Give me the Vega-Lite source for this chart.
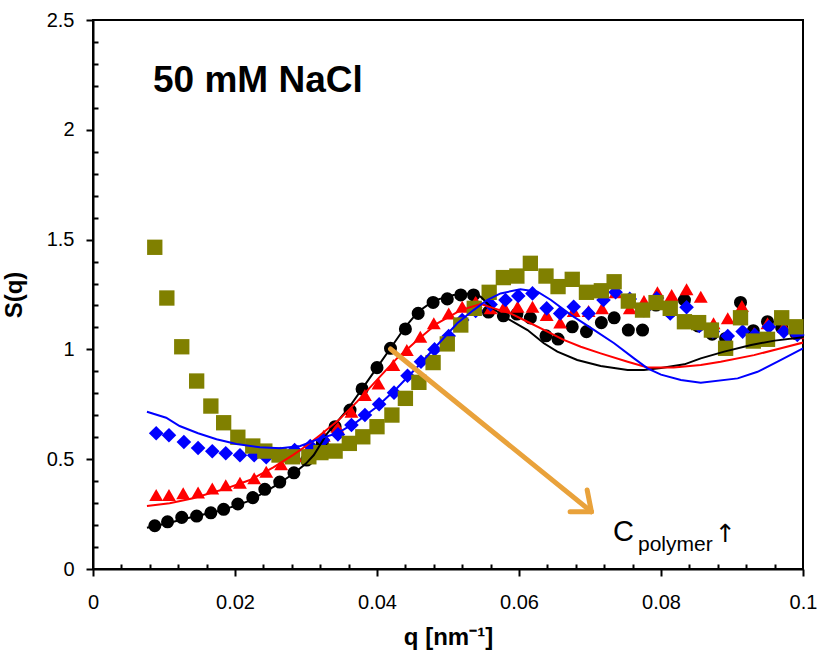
{
  "$schema": "https://vega.github.io/schema/vega-lite/v6.json",
  "width": 710,
  "height": 549,
  "autosize": {"type": "none"},
  "padding": {"left": 93, "top": 20, "right": 14, "bottom": 95},
  "background": "white",
  "config": {"view": {"stroke": "black", "strokeWidth": 2}, "font": "Liberation Sans"},
  "datasets": {
    "pts": [
      {"q":0.0087,"S":0.197,"s":"black"},{"q":0.0105,"S":0.215,"s":"black"},{"q":0.0125,"S":0.235,"s":"black"},{"q":0.0146,"S":0.241,"s":"black"},{"q":0.0166,"S":0.256,"s":"black"},{"q":0.0184,"S":0.272,"s":"black"},{"q":0.0204,"S":0.296,"s":"black"},{"q":0.0225,"S":0.325,"s":"black"},{"q":0.0242,"S":0.363,"s":"black"},{"q":0.0263,"S":0.396,"s":"black"},{"q":0.0283,"S":0.438,"s":"black"},{"q":0.0301,"S":0.496,"s":"black"},{"q":0.0323,"S":0.572,"s":"black"},{"q":0.0341,"S":0.648,"s":"black"},{"q":0.0362,"S":0.724,"s":"black"},{"q":0.0379,"S":0.82,"s":"black"},{"q":0.04,"S":0.917,"s":"black"},{"q":0.0419,"S":1.005,"s":"black"},{"q":0.044,"S":1.093,"s":"black"},{"q":0.0458,"S":1.164,"s":"black"},{"q":0.0479,"S":1.214,"s":"black"},{"q":0.0499,"S":1.23,"s":"black"},{"q":0.0518,"S":1.248,"s":"black"},{"q":0.0536,"S":1.248,"s":"black"},{"q":0.0557,"S":1.17,"s":"black"},{"q":0.0578,"S":1.153,"s":"black"},{"q":0.0597,"S":1.161,"s":"black"},{"q":0.0616,"S":1.143,"s":"black"},{"q":0.0638,"S":1.062,"s":"black"},{"q":0.0655,"S":1.047,"s":"black"},{"q":0.0675,"S":1.103,"s":"black"},{"q":0.0695,"S":1.081,"s":"black"},{"q":0.0716,"S":1.122,"s":"black"},{"q":0.0734,"S":1.144,"s":"black"},{"q":0.0754,"S":1.088,"s":"black"},{"q":0.0774,"S":1.088,"s":"black"},{"q":0.0793,"S":1.202,"s":"black"},{"q":0.0813,"S":1.172,"s":"black"},{"q":0.0833,"S":1.225,"s":"black"},{"q":0.0852,"S":1.107,"s":"black"},{"q":0.0872,"S":1.069,"s":"black"},{"q":0.0891,"S":1.05,"s":"black"},{"q":0.0912,"S":1.214,"s":"black"},{"q":0.093,"S":1.085,"s":"black"},{"q":0.095,"S":1.126,"s":"black"},{"q":0.097,"S":1.099,"s":"black"},{"q":0.099,"S":1.073,"s":"black"},
      {"q":0.0089,"S":0.337,"s":"red"},{"q":0.0107,"S":0.337,"s":"red"},{"q":0.0127,"S":0.345,"s":"red"},{"q":0.0148,"S":0.348,"s":"red"},{"q":0.0168,"S":0.367,"s":"red"},{"q":0.0187,"S":0.381,"s":"red"},{"q":0.0207,"S":0.393,"s":"red"},{"q":0.0227,"S":0.413,"s":"red"},{"q":0.0244,"S":0.443,"s":"red"},{"q":0.0265,"S":0.477,"s":"red"},{"q":0.0285,"S":0.515,"s":"red"},{"q":0.0305,"S":0.557,"s":"red"},{"q":0.0325,"S":0.607,"s":"red"},{"q":0.0344,"S":0.648,"s":"red"},{"q":0.0364,"S":0.716,"s":"red"},{"q":0.0383,"S":0.792,"s":"red"},{"q":0.0402,"S":0.845,"s":"red"},{"q":0.0423,"S":0.929,"s":"red"},{"q":0.0442,"S":0.997,"s":"red"},{"q":0.0461,"S":1.058,"s":"red"},{"q":0.048,"S":1.119,"s":"red"},{"q":0.0501,"S":1.164,"s":"red"},{"q":0.052,"S":1.194,"s":"red"},{"q":0.0539,"S":1.217,"s":"red"},{"q":0.056,"S":1.187,"s":"red"},{"q":0.0579,"S":1.194,"s":"red"},{"q":0.0598,"S":1.194,"s":"red"},{"q":0.0619,"S":1.194,"s":"red"},{"q":0.0639,"S":1.157,"s":"red"},{"q":0.0658,"S":1.123,"s":"red"},{"q":0.0677,"S":1.175,"s":"red"},{"q":0.0698,"S":1.175,"s":"red"},{"q":0.0717,"S":1.187,"s":"red"},{"q":0.0736,"S":1.26,"s":"red"},{"q":0.0756,"S":1.187,"s":"red"},{"q":0.0776,"S":1.22,"s":"red"},{"q":0.0795,"S":1.26,"s":"red"},{"q":0.0815,"S":1.248,"s":"red"},{"q":0.0836,"S":1.274,"s":"red"},{"q":0.0856,"S":1.24,"s":"red"},{"q":0.0874,"S":1.119,"s":"red"},{"q":0.0894,"S":1.142,"s":"red"},{"q":0.0914,"S":1.198,"s":"red"},{"q":0.0931,"S":1.073,"s":"red"},{"q":0.095,"S":1.119,"s":"red"},{"q":0.0973,"S":1.103,"s":"red"},{"q":0.0992,"S":1.073,"s":"red"},
      {"q":0.0089,"S":0.618,"s":"blue"},{"q":0.0107,"S":0.609,"s":"blue"},{"q":0.0128,"S":0.578,"s":"blue"},{"q":0.0148,"S":0.551,"s":"blue"},{"q":0.0168,"S":0.536,"s":"blue"},{"q":0.0187,"S":0.527,"s":"blue"},{"q":0.0207,"S":0.518,"s":"blue"},{"q":0.0227,"S":0.518,"s":"blue"},{"q":0.0244,"S":0.509,"s":"blue"},{"q":0.0264,"S":0.524,"s":"blue"},{"q":0.0284,"S":0.542,"s":"blue"},{"q":0.0306,"S":0.56,"s":"blue"},{"q":0.0324,"S":0.587,"s":"blue"},{"q":0.0345,"S":0.613,"s":"blue"},{"q":0.0364,"S":0.656,"s":"blue"},{"q":0.0383,"S":0.701,"s":"blue"},{"q":0.0403,"S":0.75,"s":"blue"},{"q":0.0424,"S":0.803,"s":"blue"},{"q":0.0443,"S":0.88,"s":"blue"},{"q":0.0462,"S":0.944,"s":"blue"},{"q":0.0481,"S":1.0,"s":"blue"},{"q":0.0501,"S":1.061,"s":"blue"},{"q":0.052,"S":1.134,"s":"blue"},{"q":0.0539,"S":1.175,"s":"blue"},{"q":0.056,"S":1.205,"s":"blue"},{"q":0.0581,"S":1.225,"s":"blue"},{"q":0.0599,"S":1.243,"s":"blue"},{"q":0.0619,"S":1.255,"s":"blue"},{"q":0.0639,"S":1.187,"s":"blue"},{"q":0.0658,"S":1.164,"s":"blue"},{"q":0.0677,"S":1.194,"s":"blue"},{"q":0.0698,"S":1.164,"s":"blue"},{"q":0.0719,"S":1.225,"s":"blue"},{"q":0.0736,"S":1.26,"s":"blue"},{"q":0.0756,"S":1.23,"s":"blue"},{"q":0.0776,"S":1.179,"s":"blue"},{"q":0.0794,"S":1.233,"s":"blue"},{"q":0.0813,"S":1.164,"s":"blue"},{"q":0.0836,"S":1.192,"s":"blue"},{"q":0.0854,"S":1.107,"s":"blue"},{"q":0.0873,"S":1.081,"s":"blue"},{"q":0.0894,"S":1.061,"s":"blue"},{"q":0.0915,"S":1.081,"s":"blue"},{"q":0.0932,"S":1.066,"s":"blue"},{"q":0.0952,"S":1.103,"s":"blue"},{"q":0.0973,"S":1.081,"s":"blue"},{"q":0.0992,"S":1.066,"s":"blue"},
      {"q":0.0087,"S":1.465,"s":"olive"},{"q":0.0104,"S":1.234,"s":"olive"},{"q":0.0125,"S":1.012,"s":"olive"},{"q":0.0146,"S":0.856,"s":"olive"},{"q":0.0166,"S":0.742,"s":"olive"},{"q":0.0184,"S":0.666,"s":"olive"},{"q":0.0204,"S":0.6,"s":"olive"},{"q":0.0225,"S":0.56,"s":"olive"},{"q":0.0242,"S":0.537,"s":"olive"},{"q":0.0262,"S":0.519,"s":"olive"},{"q":0.0281,"S":0.511,"s":"olive"},{"q":0.0304,"S":0.511,"s":"olive"},{"q":0.0321,"S":0.53,"s":"olive"},{"q":0.0341,"S":0.537,"s":"olive"},{"q":0.0361,"S":0.572,"s":"olive"},{"q":0.038,"S":0.602,"s":"olive"},{"q":0.04,"S":0.648,"s":"olive"},{"q":0.0421,"S":0.701,"s":"olive"},{"q":0.044,"S":0.777,"s":"olive"},{"q":0.0459,"S":0.85,"s":"olive"},{"q":0.0479,"S":0.94,"s":"olive"},{"q":0.0499,"S":1.025,"s":"olive"},{"q":0.0518,"S":1.111,"s":"olive"},{"q":0.0537,"S":1.187,"s":"olive"},{"q":0.0558,"S":1.26,"s":"olive"},{"q":0.0578,"S":1.327,"s":"olive"},{"q":0.0597,"S":1.334,"s":"olive"},{"q":0.0616,"S":1.392,"s":"olive"},{"q":0.0638,"S":1.334,"s":"olive"},{"q":0.0655,"S":1.286,"s":"olive"},{"q":0.0675,"S":1.319,"s":"olive"},{"q":0.0695,"S":1.26,"s":"olive"},{"q":0.0716,"S":1.267,"s":"olive"},{"q":0.0734,"S":1.308,"s":"olive"},{"q":0.0754,"S":1.22,"s":"olive"},{"q":0.0774,"S":1.179,"s":"olive"},{"q":0.0793,"S":1.213,"s":"olive"},{"q":0.0813,"S":1.187,"s":"olive"},{"q":0.0833,"S":1.126,"s":"olive"},{"q":0.0853,"S":1.122,"s":"olive"},{"q":0.0871,"S":1.088,"s":"olive"},{"q":0.0891,"S":1.005,"s":"olive"},{"q":0.0912,"S":1.144,"s":"olive"},{"q":0.093,"S":1.038,"s":"olive"},{"q":0.095,"S":1.046,"s":"olive"},{"q":0.097,"S":1.144,"s":"olive"},{"q":0.099,"S":1.103,"s":"olive"}
    ],
    "fits": [
      {"q":0.0076,"S":0.188,"s":"black"},{"q":0.0105,"S":0.208,"s":"black"},{"q":0.0141,"S":0.238,"s":"black"},{"q":0.017,"S":0.258,"s":"black"},{"q":0.0197,"S":0.284,"s":"black"},{"q":0.022,"S":0.31,"s":"black"},{"q":0.0235,"S":0.337,"s":"black"},{"q":0.026,"S":0.385,"s":"black"},{"q":0.0283,"S":0.436,"s":"black"},{"q":0.03,"S":0.48,"s":"black"},{"q":0.0311,"S":0.519,"s":"black"},{"q":0.033,"S":0.618,"s":"black"},{"q":0.0344,"S":0.671,"s":"black"},{"q":0.0358,"S":0.724,"s":"black"},{"q":0.0379,"S":0.82,"s":"black"},{"q":0.04,"S":0.917,"s":"black"},{"q":0.0419,"S":1.005,"s":"black"},{"q":0.044,"S":1.103,"s":"black"},{"q":0.0458,"S":1.172,"s":"black"},{"q":0.048,"S":1.222,"s":"black"},{"q":0.0508,"S":1.248,"s":"black"},{"q":0.053,"S":1.255,"s":"black"},{"q":0.0546,"S":1.24,"s":"black"},{"q":0.056,"S":1.194,"s":"black"},{"q":0.0583,"S":1.142,"s":"black"},{"q":0.0612,"S":1.088,"s":"black"},{"q":0.0635,"S":1.028,"s":"black"},{"q":0.0654,"S":0.99,"s":"black"},{"q":0.0682,"S":0.952,"s":"black"},{"q":0.0715,"S":0.924,"s":"black"},{"q":0.0753,"S":0.906,"s":"black"},{"q":0.0776,"S":0.906,"s":"black"},{"q":0.08,"S":0.915,"s":"black"},{"q":0.0833,"S":0.932,"s":"black"},{"q":0.0856,"S":0.959,"s":"black"},{"q":0.0889,"S":0.99,"s":"black"},{"q":0.0927,"S":1.02,"s":"black"},{"q":0.096,"S":1.04,"s":"black"},{"q":0.1,"S":1.055,"s":"black"},
      {"q":0.0076,"S":0.287,"s":"red"},{"q":0.0108,"S":0.299,"s":"red"},{"q":0.0141,"S":0.322,"s":"red"},{"q":0.0188,"S":0.367,"s":"red"},{"q":0.0221,"S":0.405,"s":"red"},{"q":0.0254,"S":0.463,"s":"red"},{"q":0.0282,"S":0.52,"s":"red"},{"q":0.03,"S":0.56,"s":"red"},{"q":0.032,"S":0.61,"s":"red"},{"q":0.0346,"S":0.678,"s":"red"},{"q":0.0372,"S":0.762,"s":"red"},{"q":0.04,"S":0.861,"s":"red"},{"q":0.0428,"S":0.959,"s":"red"},{"q":0.0457,"S":1.043,"s":"red"},{"q":0.0485,"S":1.119,"s":"red"},{"q":0.0518,"S":1.179,"s":"red"},{"q":0.0546,"S":1.206,"s":"red"},{"q":0.0565,"S":1.187,"s":"red"},{"q":0.0588,"S":1.164,"s":"red"},{"q":0.0612,"S":1.126,"s":"red"},{"q":0.064,"S":1.081,"s":"red"},{"q":0.0663,"S":1.043,"s":"red"},{"q":0.0687,"S":1.012,"s":"red"},{"q":0.0715,"S":0.982,"s":"red"},{"q":0.0753,"S":0.944,"s":"red"},{"q":0.0781,"S":0.918,"s":"red"},{"q":0.0818,"S":0.918,"s":"red"},{"q":0.0856,"S":0.929,"s":"red"},{"q":0.0884,"S":0.944,"s":"red"},{"q":0.0931,"S":0.974,"s":"red"},{"q":0.0969,"S":1.005,"s":"red"},{"q":0.1,"S":1.031,"s":"red"},
      {"q":0.0076,"S":0.716,"s":"blue"},{"q":0.0103,"S":0.689,"s":"blue"},{"q":0.0122,"S":0.651,"s":"blue"},{"q":0.0148,"S":0.618,"s":"blue"},{"q":0.0174,"S":0.591,"s":"blue"},{"q":0.0202,"S":0.569,"s":"blue"},{"q":0.0235,"S":0.554,"s":"blue"},{"q":0.0264,"S":0.55,"s":"blue"},{"q":0.0292,"S":0.56,"s":"blue"},{"q":0.032,"S":0.595,"s":"blue"},{"q":0.0344,"S":0.618,"s":"blue"},{"q":0.0372,"S":0.671,"s":"blue"},{"q":0.04,"S":0.739,"s":"blue"},{"q":0.0428,"S":0.823,"s":"blue"},{"q":0.0457,"S":0.921,"s":"blue"},{"q":0.0485,"S":1.02,"s":"blue"},{"q":0.0513,"S":1.119,"s":"blue"},{"q":0.0536,"S":1.179,"s":"blue"},{"q":0.0555,"S":1.225,"s":"blue"},{"q":0.0574,"S":1.255,"s":"blue"},{"q":0.0602,"S":1.274,"s":"blue"},{"q":0.0626,"S":1.263,"s":"blue"},{"q":0.0645,"S":1.225,"s":"blue"},{"q":0.0673,"S":1.157,"s":"blue"},{"q":0.0706,"S":1.088,"s":"blue"},{"q":0.0734,"S":1.028,"s":"blue"},{"q":0.0762,"S":0.959,"s":"blue"},{"q":0.0781,"S":0.914,"s":"blue"},{"q":0.08,"S":0.885,"s":"blue"},{"q":0.0828,"S":0.861,"s":"blue"},{"q":0.0856,"S":0.848,"s":"blue"},{"q":0.0908,"S":0.868,"s":"blue"},{"q":0.0936,"S":0.898,"s":"blue"},{"q":0.0969,"S":0.952,"s":"blue"},{"q":0.1,"S":1.005,"s":"blue"}
    ],
    "arrow": [
      {"q":0.0419,"S":1.002,"q2":0.0702,"S2":0.261},
      {"q":0.0702,"S":0.261,"q2":0.0696,"S2":0.36},
      {"q":0.0702,"S":0.261,"q2":0.0672,"S2":0.261}
    ]
  },
  "layer": [
    {
      "data": {"name": "pts"},
      "mark": {"type": "point", "filled": true, "opacity": 1, "strokeWidth": 0},
      "encoding": {
        "x": {
          "field": "q", "type": "quantitative",
          "scale": {"domain": [0, 0.1], "nice": false, "zero": false},
          "axis": {
            "title": "q [nm⁻¹]",
            "values": [0,0.004,0.008,0.012,0.016,0.02,0.024,0.028,0.032,0.036,0.04,0.044,0.048,0.052,0.056,0.06,0.064,0.068,0.072,0.076,0.08,0.084,0.088,0.092,0.096,0.1],
            "tickCount": 40,
            "labelExpr": "abs(datum.value*50-round(datum.value*50))<0.001 ? format(datum.value, '.2~f') : ''",
            "tickSize": {"condition": {"test": "abs(datum.value*50-round(datum.value*50))<0.001", "value": 7}, "value": -5},
            "tickColor": "black", "tickWidth": 2,
            "domainColor": "black", "domainWidth": 2,
            "grid": false, "labelOverlap": false, "labelFlush": false,
            "labelFont": "Liberation Sans", "labelFontSize": 20, "labelColor": "black", "labelPadding": 16,
            "titleFont": "Liberation Sans", "titleFontSize": 24, "titleFontWeight": "bold", "titleColor": "black", "titlePadding": 13
          }
        },
        "y": {
          "field": "S", "type": "quantitative",
          "scale": {"domain": [0, 2.5], "nice": false, "zero": false},
          "axis": {
            "title": "S(q)",
            "values": [0,0.1,0.2,0.3,0.4,0.5,0.6,0.7,0.8,0.9,1,1.1,1.2,1.3,1.4,1.5,1.6,1.7,1.8,1.9,2,2.1,2.2,2.3,2.4,2.5],
            "tickCount": 40,
            "labelExpr": "abs(datum.value*2-round(datum.value*2))<0.001 ? format(datum.value, '.1~f') : ''",
            "tickSize": {"condition": {"test": "abs(datum.value*2-round(datum.value*2))<0.001", "value": 7}, "value": -5},
            "tickColor": "black", "tickWidth": 2,
            "domainColor": "black", "domainWidth": 2,
            "grid": false, "labelOverlap": false, "labelFlush": false,
            "labelFont": "Liberation Sans", "labelFontSize": 20, "labelColor": "black", "labelPadding": 12,
            "titleFont": "Liberation Sans", "titleFontSize": 24, "titleFontWeight": "bold", "titleColor": "black", "titlePadding": 20
          }
        },
        "color": {"field": "s", "type": "nominal", "scale": {"domain": ["black","red","blue","olive"], "range": ["#000000","#FF0000","#0000FF","#808000"]}, "legend": null},
        "shape": {"field": "s", "type": "nominal", "scale": {"domain": ["black","red","blue","olive"], "range": ["circle","triangle-up","diamond","square"]}, "legend": null},
        "size": {"field": "s", "type": "nominal", "scale": {"domain": ["black","red","blue","olive"], "range": [170, 235, 220, 160]}, "legend": null}
      }
    },
    {
      "data": {"name": "fits"},
      "mark": {"type": "line", "strokeWidth": 2, "clip": true},
      "encoding": {
        "x": {"field": "q", "type": "quantitative"},
        "y": {"field": "S", "type": "quantitative"},
        "color": {"field": "s", "type": "nominal", "scale": {"domain": ["black","red","blue","olive"], "range": ["#000000","#FF0000","#0000FF","#808000"]}, "legend": null},
        "detail": {"field": "s"}
      }
    },
    {
      "data": {"name": "arrow"},
      "mark": {"type": "rule", "color": "#E9A23B", "strokeWidth": 5, "strokeCap": "round"},
      "encoding": {
        "x": {"field": "q", "type": "quantitative"},
        "y": {"field": "S", "type": "quantitative"},
        "x2": {"field": "q2"},
        "y2": {"field": "S2"}
      }
    },
    {
      "data": {"values": [{"q": 0.00845, "S": 2.172, "t": "50 mM NaCl"}]},
      "mark": {"type": "text", "align": "left", "baseline": "alphabetic", "font": "Liberation Sans", "fontSize": 37, "fontWeight": "bold", "color": "black"},
      "encoding": {"x": {"field": "q", "type": "quantitative"}, "y": {"field": "S", "type": "quantitative"}, "text": {"field": "t"}}
    },
    {
      "data": {"values": [{"q": 0.07324, "S": 0.1275, "t": "C"}]},
      "mark": {"type": "text", "align": "left", "baseline": "alphabetic", "font": "Liberation Sans", "fontSize": 29, "color": "black"},
      "encoding": {"x": {"field": "q", "type": "quantitative"}, "y": {"field": "S", "type": "quantitative"}, "text": {"field": "t"}}
    },
    {
      "data": {"values": [{"q": 0.07676, "S": 0.082, "t": "polymer"}]},
      "mark": {"type": "text", "align": "left", "baseline": "alphabetic", "font": "Liberation Sans", "fontSize": 21, "color": "black"},
      "encoding": {"x": {"field": "q", "type": "quantitative"}, "y": {"field": "S", "type": "quantitative"}, "text": {"field": "t"}}
    },
    {
      "data": {"values": [{"q": 0.0876, "S": 0.125, "t": "↑"}]},
      "mark": {"type": "text", "align": "left", "baseline": "alphabetic", "font": "DejaVu Sans", "fontSize": 25, "color": "black"},
      "encoding": {"x": {"field": "q", "type": "quantitative"}, "y": {"field": "S", "type": "quantitative"}, "text": {"field": "t"}}
    }
  ]
}
